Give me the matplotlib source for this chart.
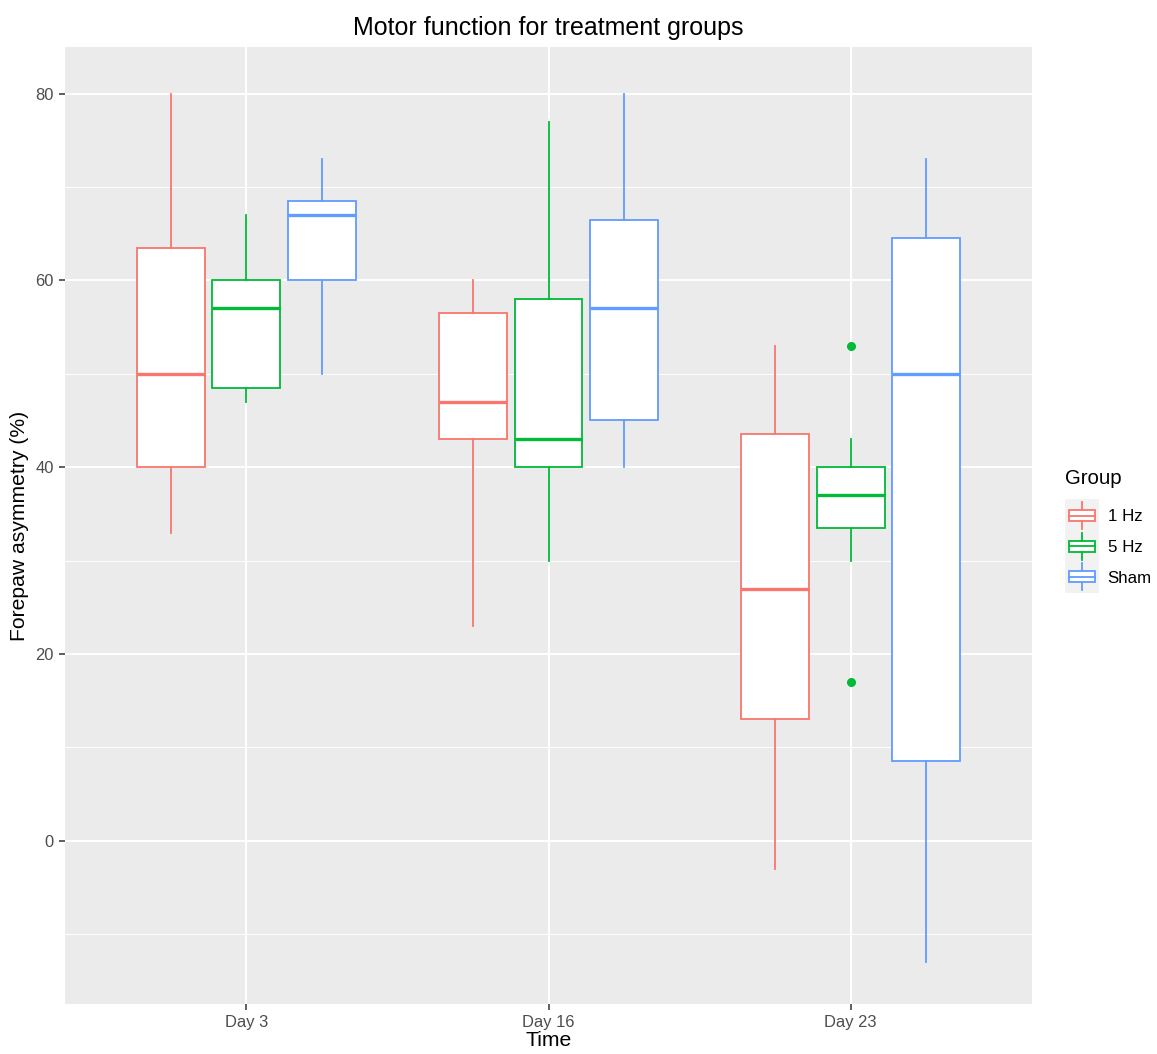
import matplotlib
matplotlib.use("Agg")
import matplotlib.pyplot as plt
from matplotlib.patches import Rectangle
from matplotlib.lines import Line2D
from matplotlib.legend_handler import HandlerBase

plt.rcParams["font.family"] = ["Liberation Sans", "DejaVu Sans"]

# Summary statistics per group and time point
days = ["Day 3", "Day 16", "Day 23"]
groups = ["1 Hz", "5 Hz", "Sham"]
colors = ["#F8766D", "#00BA38", "#619CFF"]

hz1_low = [33, 23, -3]
hz1_q1 = [40, 43, 13]
hz1_med = [50, 47, 27]
hz1_q3 = [63.5, 56.5, 43.5]
hz1_high = [80, 60, 53]
hz1_out = [[], [], []]

hz5_low = [47, 30, 30]
hz5_q1 = [48.5, 40, 33.5]
hz5_med = [57, 43, 37]
hz5_q3 = [60, 58, 40]
hz5_high = [67, 77, 43]
hz5_out = [[], [], [53, 17]]

sham_low = [50, 40, -13]
sham_q1 = [60, 45, 8.5]
sham_med = [67, 57, 50]
sham_q3 = [68.5, 66.5, 64.5]
sham_high = [73, 80, 73]
sham_out = [[], [], []]

y_ticks = [0, 20, 40, 60, 80]

series = [
    (hz1_low, hz1_q1, hz1_med, hz1_q3, hz1_high, hz1_out),
    (hz5_low, hz5_q1, hz5_med, hz5_q3, hz5_high, hz5_out),
    (sham_low, sham_q1, sham_med, sham_q3, sham_high, sham_out),
]

W, H = 1157, 1054
fig = plt.figure(figsize=(W / 100, H / 100), dpi=100)
ax = fig.add_axes([65 / W, 1 - 1004 / H, (1032 - 65) / W, (1004 - 47) / H])
ax.set_facecolor("#EBEBEB")
for s in ax.spines.values():
    s.set_visible(False)

dodge = 0.25
box_w = 0.225
for gi, (lo, q1, med, q3, hi, out) in enumerate(series):
    stats = []
    for di in range(len(days)):
        stats.append(dict(whislo=lo[di], q1=q1[di], med=med[di], q3=q3[di],
                          whishi=hi[di], fliers=out[di], label=days[di]))
    pos = [di + 1 + (gi - 1) * dodge for di in range(len(days))]
    c = colors[gi]
    ax.bxp(stats, positions=pos, widths=box_w, patch_artist=True,
           showcaps=False, manage_ticks=False,
           boxprops=dict(facecolor="white", edgecolor=c, linewidth=1.3),
           medianprops=dict(color=c, linewidth=2.4, solid_capstyle="butt"),
           whiskerprops=dict(color=c, linewidth=1.3),
           flierprops=dict(marker="o", markerfacecolor=c, markeredgecolor=c,
                           markersize=5.5, linestyle="none"),
           zorder=3)

ax.set_xlim(0.4, 3.6)
ax.set_ylim(-17.5, 85.0)
ax.set_xticks([1, 2, 3])
ax.set_xticklabels(days)
ax.set_yticks(y_ticks)
ax.set_yticks([-10, 10, 30, 50, 70], minor=True)
ax.grid(which="major", color="white", linewidth=1.4, zorder=0)
ax.grid(which="minor", axis="y", color="white", linewidth=0.7, zorder=0)
ax.set_axisbelow(True)
ax.tick_params(which="major", length=4, width=1.1, color="#333333",
               labelcolor="#4D4D4D", labelsize=11.9, pad=4)
ax.tick_params(which="minor", length=0)

ax.set_xlabel("Time", fontsize=15.2, color="black", labelpad=1)
ax.set_ylabel("Forepaw asymmetry (%)", fontsize=15.2, color="black", labelpad=5)
ax.set_title("Motor function for treatment groups", fontsize=18, color="black", pad=9)


class BoxKeyHandler(HandlerBase):
    def create_artists(self, legend, orig_handle, xdescent, ydescent,
                       width, height, fontsize, trans):
        c = orig_handle.get_color()
        x0, y0 = -xdescent, -ydescent
        bg = Rectangle((x0, y0 - 5), width, height + 10,
                       facecolor="#F2F2F2", edgecolor="none", transform=trans)
        cx = x0 + width / 2
        bw = width * 0.78
        by0 = y0 + height * 0.2
        by1 = y0 + height * 0.8
        box = Rectangle((cx - bw / 2, by0), bw, by1 - by0, facecolor="white",
                        edgecolor=c, linewidth=1.3, transform=trans)
        mid = Line2D([cx - bw / 2, cx + bw / 2], [(by0 + by1) / 2] * 2,
                     color=c, linewidth=1.3, transform=trans)
        w1 = Line2D([cx, cx], [y0 - 3, by0], color=c, linewidth=1.3,
                    transform=trans)
        w2 = Line2D([cx, cx], [by1, y0 + height + 3], color=c,
                    linewidth=1.3, transform=trans)
        return [bg, box, mid, w1, w2]


handles = [Line2D([], [], color=c) for c in colors]
leg = fig.legend(handles, groups, handler_map={Line2D: BoxKeyHandler()},
                 loc="upper left", bbox_to_anchor=(1050 / W, 1 - 454 / H),
                 frameon=False, title="Group", title_fontsize=14.7,
                 fontsize=12.2, handlelength=2.0, handleheight=1.3,
                 labelspacing=0.72, handletextpad=0.5, alignment="left")
leg._legend_box.sep = 13

fig.savefig("out.png", dpi=100, facecolor="white")
